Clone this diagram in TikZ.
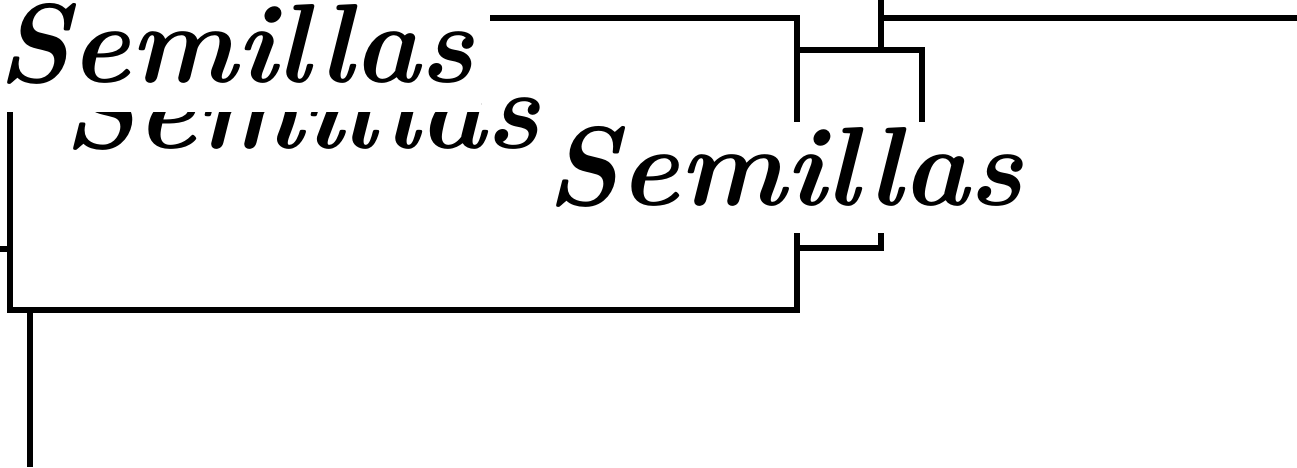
\documentclass[tikz,border=0pt]{standalone}
\usepackage{tikz}
\newcommand{\letrasemilla}{\fontsize{64}{70}\selectfont\bfseries\itshape}

\begin{document}
\begin{tikzpicture}[x=0.02cm,y=-0.02cm,
    rama/.style={line width=3pt},
    semilla/.style={fill=white,inner sep=0pt,anchor=base,font=\letrasemilla}]
  \useasboundingbox (0,0) rectangle (1297,467);
  \coordinate (A) at (797,18);
  \coordinate (B) at (797,50);
  \coordinate (C) at (922,50);
  \coordinate (D) at (881,50);
  \coordinate (E) at (797,310);
  \coordinate (F) at (10,310);
  \coordinate (G) at (881,248);
  \draw[rama] (490,18) -- (A) -- (E) -- (F) -- (10,90);
  \draw[rama] (B) -- (C) -- (922,160);
  \draw[rama] (881,0) -- (D);
  \draw[rama] (881,18) -- (1297,18);
  \draw[rama] (0,249) -- (10,249);
  \draw[rama] (30,310) -- (30,467);
  \draw[rama] (797,248) -- (G) -- (881,200);
  \node[semilla,minimum width=9.7cm,text height=1.8cm,text depth=0.2cm] (s2) at (302,148) {Semillas};
  \node[semilla,minimum width=9.8cm,text height=2cm,text depth=0.6cm] (s1) at (236,82) {Semillas};
  \node[semilla,minimum width=9.6cm,text height=1.66cm,text depth=0.56cm] (s3) at (785,205) {Semillas};
\end{tikzpicture}
\end{document}
